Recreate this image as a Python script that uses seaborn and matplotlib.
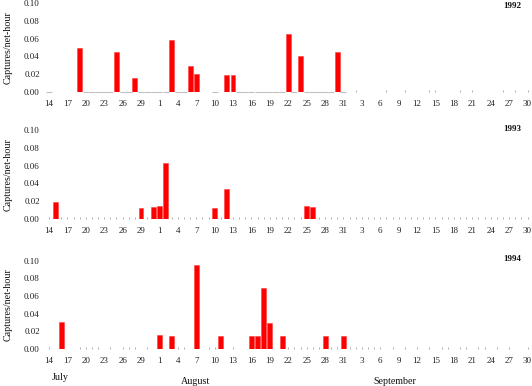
import numpy as np
import pandas as pd
import matplotlib
matplotlib.use("Agg")
import matplotlib.pyplot as plt
import seaborn as sns

# ---- data -------------------------------------------------------------
years = ["1992", "1993", "1994"]

capture_dates_1992 = ["07-19", "07-25", "07-28", "08-03", "08-06", "08-07",
                      "08-12", "08-13", "08-22", "08-24", "08-30"]
capture_rates_1992 = [0.050, 0.045, 0.016, 0.058, 0.029, 0.020,
                      0.019, 0.019, 0.065, 0.040, 0.045]

capture_dates_1993 = ["07-15", "07-29", "07-31", "08-01", "08-02",
                      "08-10", "08-12", "08-25", "08-26"]
capture_rates_1993 = [0.019, 0.012, 0.013, 0.015, 0.063,
                      0.012, 0.034, 0.015, 0.014]

capture_dates_1994 = ["07-16", "08-01", "08-03", "08-07", "08-11", "08-16",
                      "08-17", "08-18", "08-19", "08-21", "08-28", "08-31"]
capture_rates_1994 = [0.031, 0.016, 0.015, 0.095, 0.015, 0.015,
                      0.015, 0.069, 0.029, 0.015, 0.015, 0.015]

# nights sampled with no captures
zero_dates_1992 = ["07-14", "07-20", "07-21", "07-22", "07-23", "07-24",
                   "07-26", "07-27", "07-29", "07-30", "07-31", "08-01",
                   "08-02", "08-04", "08-05", "08-10", "08-14", "08-15",
                   "08-16", "08-17", "08-18", "08-19", "08-20", "08-21",
                   "08-23", "08-25", "08-26", "08-27", "08-28", "08-29",
                   "08-31", "09-02", "09-07", "09-10", "09-14", "09-15",
                   "09-19", "09-21", "09-26", "09-28", "09-30"]
zero_dates_1994 = ["07-14", "07-19", "07-20", "07-21", "07-22", "07-24",
                   "07-26", "07-27", "07-28", "07-30", "08-04", "08-05",
                   "08-09", "08-10", "08-13", "08-22", "08-23", "08-24",
                   "08-25", "08-26", "08-27", "08-29", "08-30", "09-01",
                   "09-02", "09-03", "09-04", "09-05", "09-06", "09-08",
                   "09-10", "09-12", "09-14", "09-16", "09-17", "09-19",
                   "09-20", "09-22", "09-23", "09-25", "09-27", "09-30"]

season_start = "07-14"
season_end = "09-30"
month_labels = ["July", "August", "September"]

# ---- helpers ----------------------------------------------------------
def offset(md):
    return (pd.Timestamp("2001-" + md) - pd.Timestamp("2001-" + season_start)).days

n_days = offset(season_end) + 1
all_days = pd.date_range("2001-" + season_start, "2001-" + season_end)

captures = {
    "1992": (capture_dates_1992, capture_rates_1992),
    "1993": (capture_dates_1993, capture_rates_1993),
    "1994": (capture_dates_1994, capture_rates_1994),
}
cap_offsets_1993 = [offset(d) for d in capture_dates_1993]
zero_days = {
    "1992": [offset(d) for d in zero_dates_1992],
    "1993": [i for i in range(n_days) if i not in cap_offsets_1993],
    "1994": [offset(d) for d in zero_dates_1994],
}
sept_start = offset("09-01")

# ---- figure -----------------------------------------------------------
sns.set_style("white")
plt.rcParams["font.family"] = ["Liberation Serif", "DejaVu Serif"]

W, H = 532, 386
fig = plt.figure(figsize=(W / 100, H / 100), dpi=100)

px_day = (527.5 - 49) / (n_days - 1)
xl = -0.6
left_px = 49 + xl * px_day
right_px = 49 + (n_days - 1 - xl) * px_day
panel_px = [(3, 92), (130, 219), (260.7, 349)]  # (top of 0.10, zero line)
year_y = [0.0965, 0.1015, 0.1015]

tick_pos = list(range(0, n_days, 3))
tick_lab = [str(all_days[i].day) for i in tick_pos]

for yr, (top, bot), yy in zip(years, panel_px, year_y):
    ax = fig.add_axes([left_px / W, 1 - bot / H,
                       (right_px - left_px) / W, (bot - top) / H])
    dates, rates = captures[yr]
    df = pd.DataFrame({"day": np.arange(n_days), "rate": np.zeros(n_days)})
    for d, r in zip(dates, rates):
        df.loc[offset(d), "rate"] = r
    sns.barplot(data=df, x="day", y="rate", order=list(range(n_days)),
                color="#ff0000", saturation=1, width=0.8, ax=ax,
                edgecolor="#ff4040", linewidth=0.4, errorbar=None)
    zd = zero_days[yr]
    if yr == "1992":
        dash = [d for d in zd if d < sept_start]
        dots = [d for d in zd if d >= sept_start]
        ax.plot(dash, [0] * len(dash), ls="none", marker="_", ms=4.6,
                mew=0.8, color="#c0c0c0", clip_on=False, zorder=0.5)
    else:
        dots = zd
    ax.plot(dots, [0.0012] * len(dots), ls="none", marker="|", ms=1.8,
            mew=0.6, color="#a0a0a0", clip_on=False, zorder=0.5)
    ax.set_xlim(xl, n_days - 1 - xl)
    ax.set_ylim(0, 0.10)
    yt = [0.0, 0.02, 0.04, 0.06, 0.08, 0.10]
    ax.set_yticks(yt)
    ax.set_yticklabels([f"{v:.2f}" for v in yt])
    ax.set_xticks(tick_pos)
    ax.set_xticklabels(tick_lab)
    ax.tick_params(axis="x", length=0, pad=6, labelsize=6.5, colors="#222222")
    ax.tick_params(axis="y", length=2, width=0.6, color="#999999",
                   pad=2, labelsize=6.5, labelcolor="#222222")
    for s in ax.spines.values():
        s.set_visible(False)
    ax.set_xlabel("")
    ax.set_ylabel("")
    ax.text(75.5, yy, yr, ha="center", va="center", fontsize=6.5,
            fontweight="bold", color="#111111")
    fig.text(8 / W, 1 - (top + bot) / 2 / H, "Captures/net-hour",
             rotation=90, ha="center", va="center", fontsize=7.2,
             color="#111111")

fig.text(60 / W, 1 - 377 / H, month_labels[0], ha="center", va="center",
         fontsize=7.2, color="#111111")
fig.text(196 / W, 1 - 381 / H, month_labels[1], ha="center", va="center",
         fontsize=7.2, color="#111111")
fig.text(395 / W, 1 - 381 / H, month_labels[2], ha="center", va="center",
         fontsize=7.2, color="#111111")

fig.savefig("out.png", dpi=100)
